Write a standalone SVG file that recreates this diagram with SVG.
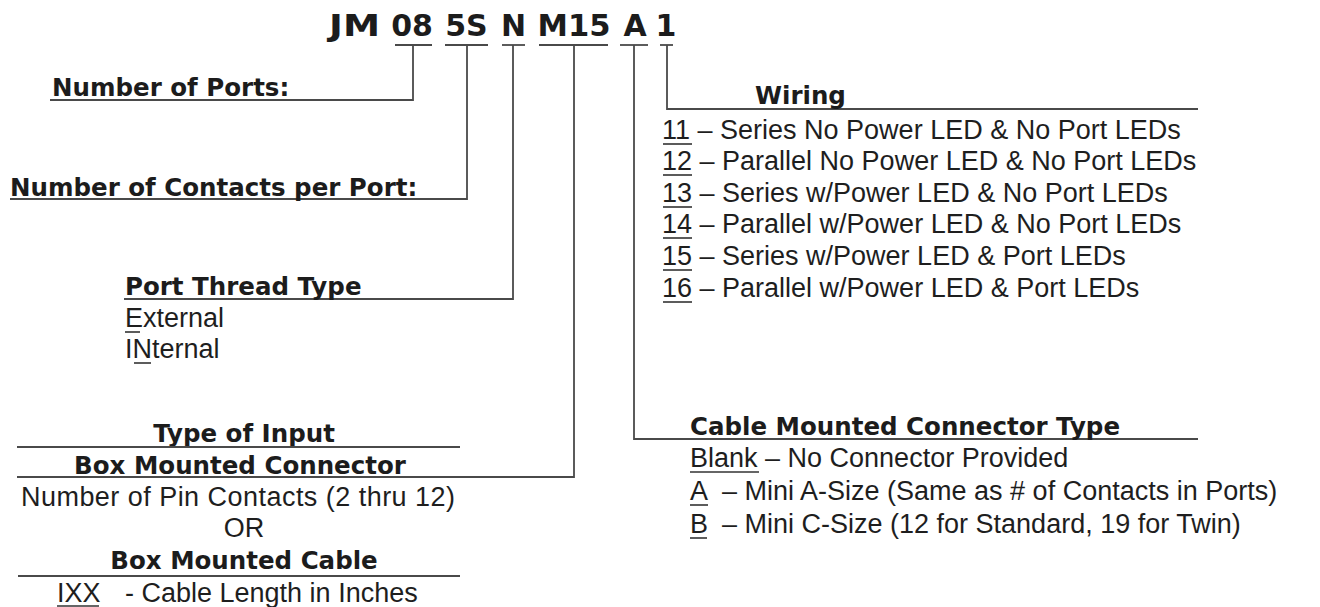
<svg xmlns="http://www.w3.org/2000/svg" width="1320" height="607" viewBox="0 0 1320 607">
<style>
  .bg { fill: #ffffff; }
  .t { font-family: "DejaVu Sans", "Liberation Sans", sans-serif; font-weight: bold; font-size: 30px; fill: #1c1c1c; text-anchor: middle; }
  .h { font-family: "DejaVu Sans", "Liberation Sans", sans-serif; font-weight: bold; font-size: 24.5px; fill: #1c1c1c; }
  .r { font-family: "Liberation Sans", Arial, sans-serif; font-size: 27px; fill: #1e1e1e; }
  .c { text-anchor: middle; }
  .ln { stroke: #4a4a4a; stroke-width: 1.8; fill: none; }
  .ul { stroke: #333333; stroke-width: 1.6; fill: none; }
</style>
<rect class="bg" x="0" y="0" width="1320" height="607"/>

<g id="title">
  <text class="t" x="354.5" y="36" textLength="51" lengthAdjust="spacingAndGlyphs">JM</text>
  <text class="t" x="412" y="36">08</text>
  <text class="t" x="466.5" y="36">5S</text>
  <text class="t" x="513.5" y="36">N</text>
  <text class="t" x="574" y="36" textLength="73" lengthAdjust="spacingAndGlyphs">M15</text>
  <text class="t" x="635" y="36">A</text>
  <text class="t" x="666" y="36">1</text>
  <line class="ln" x1="395" y1="45" x2="432" y2="45"/>
  <line class="ln" x1="445" y1="45" x2="488" y2="45"/>
  <line class="ln" x1="502" y1="45" x2="525" y2="45"/>
  <line class="ln" x1="539" y1="45" x2="608" y2="45"/>
  <line class="ln" x1="620" y1="45" x2="648" y2="45"/>
  <line class="ln" x1="660" y1="45" x2="673" y2="45"/>
</g>

<g id="connectors">
  <polyline class="ln" points="413,45 413,100 50,100"/>
  <polyline class="ln" points="467,45 467,199 10,199"/>
  <polyline class="ln" points="513,45 513,299 124,299"/>
  <polyline class="ln" points="574,45 574,477 17,477"/>
  <polyline class="ln" points="634,45 634,439 1198,439"/>
  <polyline class="ln" points="667,45 667,109 1198,109"/>
</g>

<g id="ports">
  <text class="h" x="52" y="96">Number of Ports:</text>
</g>

<g id="contacts">
  <text class="h" x="10" y="196">Number of Contacts per Port:</text>
</g>

<g id="thread">
  <text class="h" x="125" y="295">Port Thread Type</text>
  <text class="r" x="125" y="327">External</text>
  <text class="r" x="125" y="358">INternal</text>
  <line class="ul" x1="125" y1="332" x2="140" y2="332"/>
  <line class="ul" x1="134" y1="363" x2="151" y2="363"/>
</g>

<g id="input">
  <text class="h c" x="244" y="442">Type of Input</text>
  <line class="ln" x1="17" y1="447" x2="460" y2="447"/>
  <text class="h c" x="240" y="474">Box Mounted Connector</text>
  <text class="r c" x="238" y="506" textLength="434" lengthAdjust="spacing">Number of Pin Contacts (2 thru 12)</text>
  <text class="r c" x="244" y="537">OR</text>
  <text class="h c" x="244" y="569">Box Mounted Cable</text>
  <line class="ln" x1="18" y1="576" x2="460" y2="576"/>
  <text class="r" x="57" y="602">IXX<tspan x="125">- Cable Length in Inches</tspan></text>
  <line class="ul" x1="57" y1="606" x2="99" y2="606"/>
</g>

<g id="wiring">
  <text class="h" x="755" y="104">Wiring</text>
  <text class="r" x="662" y="139">11 – Series No Power LED &amp; No Port LEDs</text>
  <text class="r" x="662" y="170">12 – Parallel No Power LED &amp; No Port LEDs</text>
  <text class="r" x="662" y="202">13 – Series w/Power LED &amp; No Port LEDs</text>
  <text class="r" x="662" y="233">14 – Parallel w/Power LED &amp; No Port LEDs</text>
  <text class="r" x="662" y="265">15 – Series w/Power LED &amp; Port LEDs</text>
  <text class="r" x="662" y="297">16 – Parallel w/Power LED &amp; Port LEDs</text>
  <line class="ul" x1="663" y1="144" x2="692" y2="144"/>
  <line class="ul" x1="663" y1="175" x2="692" y2="175"/>
  <line class="ul" x1="663" y1="207" x2="692" y2="207"/>
  <line class="ul" x1="663" y1="238" x2="692" y2="238"/>
  <line class="ul" x1="663" y1="270" x2="692" y2="270"/>
  <line class="ul" x1="663" y1="302" x2="692" y2="302"/>
</g>

<g id="cable">
  <text class="h" x="690" y="435">Cable Mounted Connector Type</text>
  <text class="r" x="690" y="467">Blank – No Connector Provided</text>
  <text class="r" x="690" y="500">A<tspan x="722">– Mini A-Size (Same as # of Contacts in Ports)</tspan></text>
  <text class="r" x="690" y="533">B<tspan x="722">– Mini C-Size (12 for Standard, 19 for Twin)</tspan></text>
  <line class="ul" x1="690" y1="472" x2="759" y2="472"/>
  <line class="ul" x1="690" y1="505" x2="708" y2="505"/>
  <line class="ul" x1="690" y1="538" x2="707" y2="538"/>
</g>
</svg>
